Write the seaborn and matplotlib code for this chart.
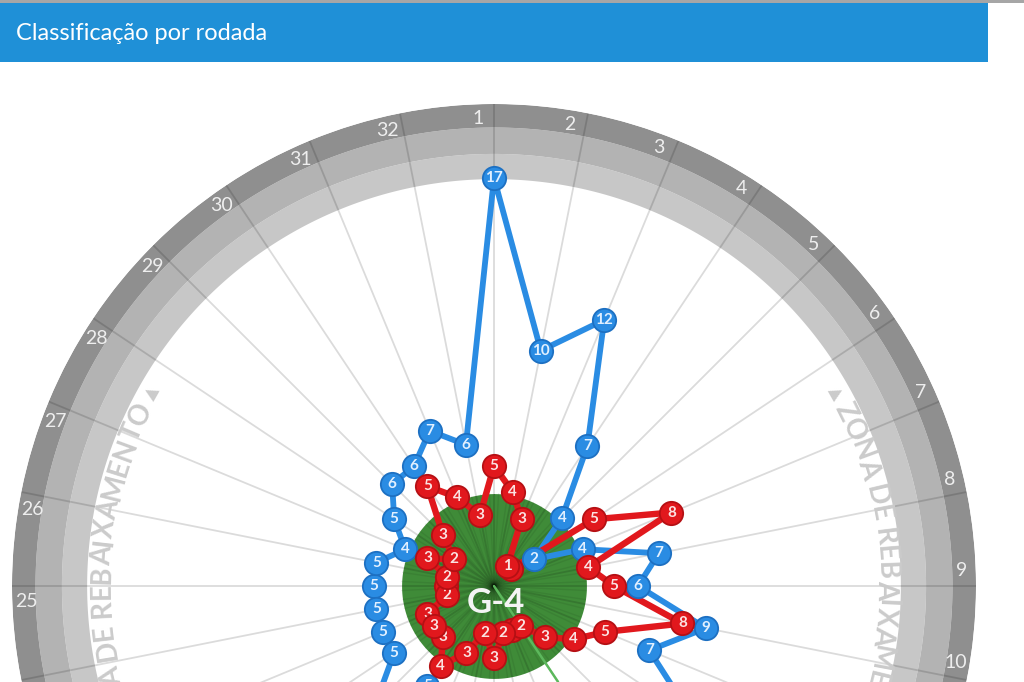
import numpy as np
import pandas as pd
import matplotlib
matplotlib.use('Agg')
import matplotlib.pyplot as plt
import seaborn as sns
from matplotlib.patches import Rectangle
from matplotlib.font_manager import FontProperties
from matplotlib.textpath import text_to_path

# ---------------- data ----------------
rounds = list(range(1, 33))
red_rank = [5, 4, 3, 1, 1, 5, 8, 4, 5, 8, 5, 4, 3, 2, 2, 2,
            3, 2, 3, 4, 3, 3, 3, 2, 2, 2, 3, 2, 3, 5, 4, 3]
blue_rank = [17, 10, 12, 7, 4, 2, 4, 7, 6, 9, 7, 10, 11, 10, 9, 8,
             8, 7, 6, 5, 7, 5, 5, 5, 5, 5, 4, 5, 6, 6, 7, 6]
round_labels = [str(r) for r in rounds]
title = "Classificação por rodada"
zone_text = "ZONA DE REBAIXAMENTO"
center_label = "G-4"

# ---------------- style ----------------
sns.set_style('white')
plt.rcParams['font.family'] = ['Lato', 'DejaVu Sans']

DPI = 100
W, H = 1024, 682
fig = plt.figure(figsize=(W / DPI, H / DPI), dpi=DPI)
fig.patch.set_facecolor('white')

CX, CY = 494, 586          # centre in pixels (from top)
RMAX = 20.08
R_PX = 482
PX = R_PX / RMAX           # pixels per rank unit

ax = fig.add_axes([(CX - R_PX) / W, (H - CY - R_PX) / H, 2 * R_PX / W, 2 * R_PX / H],
                  projection='polar')
ax.set_theta_zero_location('N')
ax.set_theta_direction(-1)
ax.set_axis_off()

n = len(rounds)
theta = np.array([(r - 1) * 2 * np.pi / n for r in rounds])
tt = np.linspace(0, 2 * np.pi, 721)

# relegation bands
ax.fill_between(tt, 16.95, 18.0, color='#c7c7c7', lw=0, zorder=1)
ax.fill_between(tt, 18.0, 19.1, color='#b3b3b3', lw=0, zorder=1)
ax.fill_between(tt, 19.1, RMAX, color='#8f8f8f', lw=0, zorder=1)

# G-4 disc
ax.fill_between(tt, 0, 3.85, color='#3f8b38', lw=0, zorder=2)
for k in range(2 * n):
    th = k * np.pi / n + np.pi / (2 * n)
    ax.plot([th, th], [0, 3.85], color='black', alpha=0.07, lw=1.0, zorder=2.2)

# spokes
for th in theta:
    ax.plot([th, th], [0, RMAX], color='black', alpha=0.14, lw=1.3, zorder=2.5,
            solid_capstyle='butt')
ax.plot([theta[13], theta[13]], [0, 4.8], color='#5cb85c', lw=1.8, zorder=2.6)

ax.annotate(center_label, xy=(0, 0), xytext=(2, -17), textcoords='offset pixels',
            ha='center', va='center', fontsize=25, fontweight='bold',
            color='#f4f4f4', zorder=3)

# round labels
for th, lab in zip(theta, round_labels):
    ax.text(th - np.deg2rad(1.9), 19.5, lab, ha='center', va='center',
            fontsize=14, color='#eeeeee', zorder=3)

# curved zone text
fp_txt = FontProperties(family='Lato', weight='bold', size=20)
fp_tri = FontProperties(family='DejaVu Sans', size=12)


def adv(ch, fp):
    w1 = text_to_path.get_text_width_height_descent('H' + ch + 'H', fp, ismath=False)[0]
    w0 = text_to_path.get_text_width_height_descent('HH', fp, ismath=False)[0]
    return (w1 - w0) * DPI / 72.0


def curved(s, anchor_idx, phi_anchor, r_rank, color):
    fps = [fp_tri if c == '▲' else fp_txt for c in s]
    advs = [adv(c, f) for c, f in zip(s, fps)]
    cum = np.concatenate([[0], np.cumsum(advs)])
    centers = (cum[:-1] + cum[1:]) / 2
    r_px = r_rank * PX
    for c, f, cc in zip(s, fps, centers):
        if c == ' ':
            continue
        phi = phi_anchor + np.rad2deg((cc - centers[anchor_idx]) / r_px)
        ax.text(np.deg2rad(phi), r_rank, c, fontproperties=f, color=color,
                rotation=-phi, rotation_mode='anchor', ha='center', va='center',
                zorder=3)


zcol = '#cbcbcb'
right_s = '▲ ' + zone_text
left_s = zone_text + ' ▲'
curved(right_s, 0, 60.5, 16.35, zcol)
curved(left_s, len(left_s) - 1, 299.5, 16.35, zcol)

# ---------------- series ----------------
BLUE, BLUE_E, BLUE_T = '#2a8ce3', '#1d70c2', '#e2f0ff'
RED, RED_E, RED_T = '#e1181d', '#b51014', '#fbe2e2'

th_closed = np.append(theta, 2 * np.pi)
df_blue = pd.DataFrame({'theta': th_closed, 'rank': blue_rank + blue_rank[:1]})
df_red = pd.DataFrame({'theta': th_closed, 'rank': red_rank + red_rank[:1]})

sns.lineplot(data=df_blue, x='theta', y='rank', sort=False, estimator=None, ax=ax,
             color=BLUE, lw=4.2, zorder=4, legend=False)
sns.lineplot(data=df_red, x='theta', y='rank', sort=False, estimator=None, ax=ax,
             color=RED, lw=4.6, zorder=5, legend=False)


def markers(ranks, fc, ec, tc, base):
    # odd rounds first, even rounds on top
    order = list(range(0, n, 2)) + list(range(1, n, 2))
    for j, i in enumerate(order):
        th, rk = theta[i], ranks[i]
        z = base + j * 0.01
        ax.plot([th], [rk], marker='o', ms=16.8, mfc=fc, mec=ec, mew=1.3,
                ls='none', zorder=z)
        ax.text(th, rk, str(rk), ha='center', va='center', fontsize=11,
                fontweight='bold', color=tc, zorder=z + 0.005)


markers(blue_rank, BLUE, BLUE_E, BLUE_T, 6)
markers(red_rank, RED, RED_E, RED_T, 7)

ax.set_ylim(0, RMAX)
ax.set_xlabel('')
ax.set_ylabel('')

# ---------------- header ----------------
fig.add_artist(Rectangle((0, 1 - 3 / H), 1, 3 / H, transform=fig.transFigure,
                         facecolor='#a6a6a6', edgecolor='none', zorder=5))
fig.add_artist(Rectangle((0, 1 - 62 / H), 988 / W, 59 / H, transform=fig.transFigure,
                         facecolor='#1f90d7', edgecolor='none', zorder=5))
fig.text(16 / W, 1 - 33 / H, title, ha='left', va='center', fontsize=17,
         color='white', family=['Lato', 'DejaVu Sans'], zorder=6)

fig.savefig('out.png', dpi=DPI, facecolor='white')
